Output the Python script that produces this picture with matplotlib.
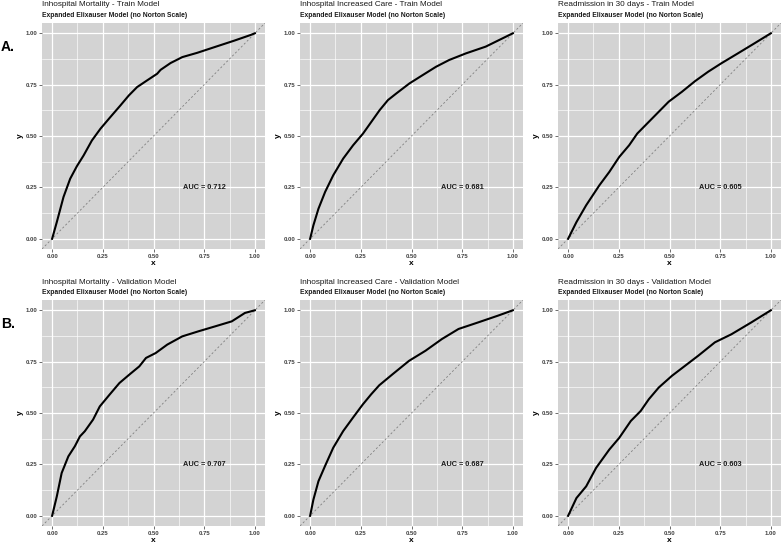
import matplotlib
matplotlib.use('Agg')
import matplotlib.pyplot as plt
import numpy as np

plt.rcParams['font.family'] = ['Liberation Sans', 'DejaVu Sans']

# ROC curves (fpr, tpr)
mort_train_fpr = [0, 0.023, 0.056, 0.089, 0.122, 0.155, 0.196, 0.238, 0.287, 0.337, 0.378, 0.419, 0.469, 0.518, 0.535, 0.584, 0.642, 0.716, 0.799, 0.898, 0.980, 1]
mort_train_tpr = [0, 0.081, 0.203, 0.292, 0.353, 0.405, 0.478, 0.535, 0.592, 0.649, 0.697, 0.738, 0.771, 0.803, 0.822, 0.855, 0.884, 0.905, 0.932, 0.964, 0.992, 1]
care_train_fpr = [0, 0.016, 0.041, 0.074, 0.114, 0.163, 0.212, 0.261, 0.302, 0.343, 0.384, 0.425, 0.490, 0.556, 0.621, 0.686, 0.768, 0.866, 1]
care_train_tpr = [0, 0.065, 0.146, 0.228, 0.309, 0.390, 0.455, 0.512, 0.569, 0.626, 0.675, 0.707, 0.756, 0.797, 0.837, 0.870, 0.902, 0.935, 1]
readm_train_fpr = [0, 0.041, 0.089, 0.154, 0.203, 0.252, 0.301, 0.341, 0.382, 0.431, 0.496, 0.561, 0.626, 0.691, 0.756, 0.837, 0.919, 1]
readm_train_tpr = [0, 0.081, 0.163, 0.260, 0.325, 0.398, 0.455, 0.512, 0.553, 0.602, 0.667, 0.715, 0.767, 0.813, 0.854, 0.902, 0.951, 1]
mort_valid_fpr = [0, 0.023, 0.047, 0.080, 0.112, 0.137, 0.161, 0.202, 0.235, 0.283, 0.332, 0.381, 0.430, 0.463, 0.511, 0.568, 0.642, 0.723, 0.805, 0.886, 0.951, 1]
mort_valid_tpr = [0, 0.094, 0.208, 0.289, 0.338, 0.386, 0.411, 0.468, 0.532, 0.589, 0.646, 0.687, 0.727, 0.768, 0.792, 0.833, 0.873, 0.898, 0.922, 0.946, 0.987, 1]
care_valid_fpr = [0, 0.016, 0.041, 0.073, 0.114, 0.163, 0.211, 0.260, 0.301, 0.341, 0.407, 0.488, 0.569, 0.650, 0.732, 0.829, 0.927, 1]
care_valid_tpr = [0, 0.078, 0.168, 0.241, 0.331, 0.412, 0.477, 0.542, 0.591, 0.635, 0.689, 0.754, 0.803, 0.860, 0.909, 0.941, 0.974, 1]
readm_valid_fpr = [0, 0.041, 0.089, 0.138, 0.203, 0.252, 0.309, 0.358, 0.398, 0.447, 0.512, 0.577, 0.642, 0.724, 0.805, 0.902, 1]
readm_valid_tpr = [0, 0.086, 0.143, 0.233, 0.322, 0.379, 0.461, 0.510, 0.567, 0.624, 0.681, 0.730, 0.779, 0.844, 0.883, 0.940, 1]

titles = ['Inhospital Mortality - Train Model', 'Inhospital Increased Care - Train Model', 'Readmission in 30 days - Train Model',
          'Inhospital Mortality - Validation Model', 'Inhospital Increased Care - Validation Model', 'Readmission in 30 days - Validation Model']
subtitle = 'Expanded Elixauser Model (no Norton Scale)'
auc_labels = ['AUC = 0.712', 'AUC = 0.681', 'AUC = 0.605', 'AUC = 0.707', 'AUC = 0.687', 'AUC = 0.603']
curves = [(mort_train_fpr, mort_train_tpr), (care_train_fpr, care_train_tpr), (readm_train_fpr, readm_train_tpr),
          (mort_valid_fpr, mort_valid_tpr), (care_valid_fpr, care_valid_tpr), (readm_valid_fpr, readm_valid_tpr)]
ticks = [0, 0.25, 0.5, 0.75, 1.0]
tick_labels = ['0.00', '0.25', '0.50', '0.75', '1.00']
row_labels = ['A.', 'B.']

W, H = 784, 544
fig = plt.figure(figsize=(W/100, H/100), dpi=100)

lefts = [42, 300, 558]
tops = [23, 300]
pw, ph = 223, 226

for i in range(6):
	r, c = i // 3, i % 3
	l, t = lefts[c], tops[r]
	ax = fig.add_axes([l/W, 1 - (t+ph)/H, pw/W, ph/H])
	ax.set_facecolor('#d3d3d3')
	for s in ax.spines.values():
		s.set_visible(False)
	ax.set_xlim(-0.05, 1.05)
	ax.set_ylim(-0.05, 1.05)
	ax.set_xticks(ticks)
	ax.set_xticklabels(tick_labels, fontweight='bold')
	ax.set_yticks(ticks)
	ax.set_yticklabels(tick_labels, fontweight='bold')
	ax.set_xticks([0.125, 0.375, 0.625, 0.875], minor=True)
	ax.set_yticks([0.125, 0.375, 0.625, 0.875], minor=True)
	ax.tick_params(which='major', labelsize=4.3, labelcolor='#404040', color='#333333', length=2, width=0.5, pad=1.5)
	ax.tick_params(which='minor', length=0)
	ax.grid(which='major', color='white', linewidth=0.9)
	ax.grid(which='minor', color='white', linewidth=0.45)
	ax.set_axisbelow(True)
	ax.plot([-0.05, 1.05], [-0.05, 1.05], color='#808080', linestyle=(0, (2.5, 2.5)), linewidth=0.6)
	fpr, tpr = curves[i]
	ax.plot(fpr, tpr, color='black', linewidth=1.5, solid_joinstyle='round')
	ax.text(0.75, 0.25, auc_labels[i], ha='center', va='center', fontsize=5.3, fontweight='bold', color='#1a1a1a')
	ax.set_xlabel('x', fontsize=6, fontweight='bold', labelpad=1)
	ax.set_ylabel('y', fontsize=6, fontweight='bold', labelpad=1)
	# title and subtitle, aligned with the panel
	fig.text(l/W, 1 - (t-18)/H, titles[i], fontsize=5.9, ha='left', va='center', color='#1a1a1a')
	fig.text(l/W, 1 - (t-7.5)/H, subtitle, fontsize=4.9, fontweight='bold', ha='left', va='center', color='#1a1a1a')

fig.text(1/W, 1 - 47/H, row_labels[0], fontsize=10, fontweight='bold', ha='left', va='center')
fig.text(1/W, 1 - 324/H, row_labels[1], fontsize=10, fontweight='bold', ha='left', va='center')

fig.savefig('out.png', dpi=100)
